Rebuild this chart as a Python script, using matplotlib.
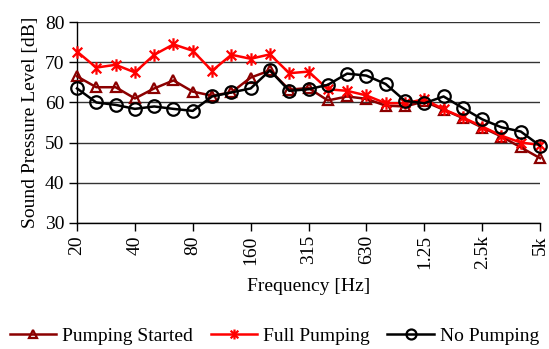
import matplotlib
matplotlib.use("Agg")
import matplotlib.pyplot as plt
from matplotlib.path import Path

plt.rcParams['font.family'] = ['Liberation Serif', 'DejaVu Serif']

bands = ["20", "25", "31.5", "40", "50", "63", "80", "100", "125", "160", "200", "250",
         "315", "400", "500", "630", "800", "1k", "1.25", "1.6k", "2k", "2.5k", "3.15k", "4k", "5k"]
tick_labels = ["20", "40", "80", "160", "315", "630", "1.25", "2.5k", "5k"]

pumping_started = [66.5, 63.8, 63.8, 61.0, 63.5, 65.5, 62.7, 61.7, 62.5, 66.2, 68.0, 63.2, 63.6,
                   60.5, 61.5, 60.9, 59.2, 59.0, 60.25, 58.2, 56.1, 53.75, 51.5, 48.8, 46.1]
full_pumping = [72.7, 68.7, 69.4, 67.5, 71.9, 74.5, 72.9, 67.9, 71.9, 70.9, 72.0, 67.3, 67.7,
                63.3, 62.9, 61.75, 59.8, 59.8, 60.8, 58.3, 56.25, 54.0, 51.7, 50.0, 49.4]
no_pumping = [63.5, 60.0, 59.4, 58.4, 59.0, 58.4, 57.9, 61.5, 62.5, 63.5, 68.0, 62.9, 63.3,
              64.4, 67.2, 66.7, 64.6, 60.4, 59.8, 61.5, 58.6, 55.8, 53.8, 52.75, 49.2]

# asterisk marker (x plus vertical bar)
star = Path([(-1, -1), (1, 1), (-1, 1), (1, -1), (0, -1.3), (0, 1.3)],
            [Path.MOVETO, Path.LINETO, Path.MOVETO, Path.LINETO, Path.MOVETO, Path.LINETO])

FS = 14

fig = plt.figure(figsize=(5.49, 3.49), dpi=100)
ax = fig.add_axes([0.1403, 0.3619, 0.8434, 0.5742])

x = list(range(len(bands)))
ax.plot(x, pumping_started, color='#8B0000', lw=1.8, marker='^', ms=7, mfc='none',
        mec='#8B0000', mew=1.6, clip_on=False, label='Pumping Started', zorder=3)
ax.plot(x, full_pumping, color='#FF0000', lw=1.8, marker=star, ms=9, mfc='none',
        mec='#FF0000', mew=1.6, clip_on=False, label='Full Pumping', zorder=4)
ax.plot(x, no_pumping, color='black', lw=1.8, marker='o', ms=9, mfc='none',
        mec='black', mew=1.6, clip_on=False, label='No Pumping', zorder=5)

ax.set_xlim(0, len(bands) - 1)
ax.set_ylim(30, 80)
ax.set_yticks([30, 40, 50, 60, 70, 80])
ax.set_xticks(x[::3])
ax.set_xticklabels(tick_labels, rotation=90)
ax.grid(axis='y', color='#333333', lw=1.0)
ax.set_axisbelow(True)
for s in ['top', 'right']:
    ax.spines[s].set_visible(False)
for s in ['left', 'bottom']:
    ax.spines[s].set_color('black')
    ax.spines[s].set_linewidth(1.0)
ax.tick_params(axis='both', direction='out', length=6, width=1.0, labelsize=FS, color='black')
ax.tick_params(axis='x', pad=3)
ax.tick_params(axis='y', pad=3)

ax.set_ylabel('Sound Pressure Level [dB]', fontsize=FS, labelpad=4)
ax.set_xlabel('Frequency [Hz]', fontsize=FS, labelpad=6)

handles, labels = ax.get_legend_handles_labels()
fig.legend(handles, labels, loc='center', bbox_to_anchor=(0.5, 0.038), ncol=3, frameon=False,
           fontsize=FS, handlelength=2.4, columnspacing=0.9, handletextpad=0.3,
           markerscale=0.8, borderpad=0.1)

fig.savefig('out.png', dpi=100)
